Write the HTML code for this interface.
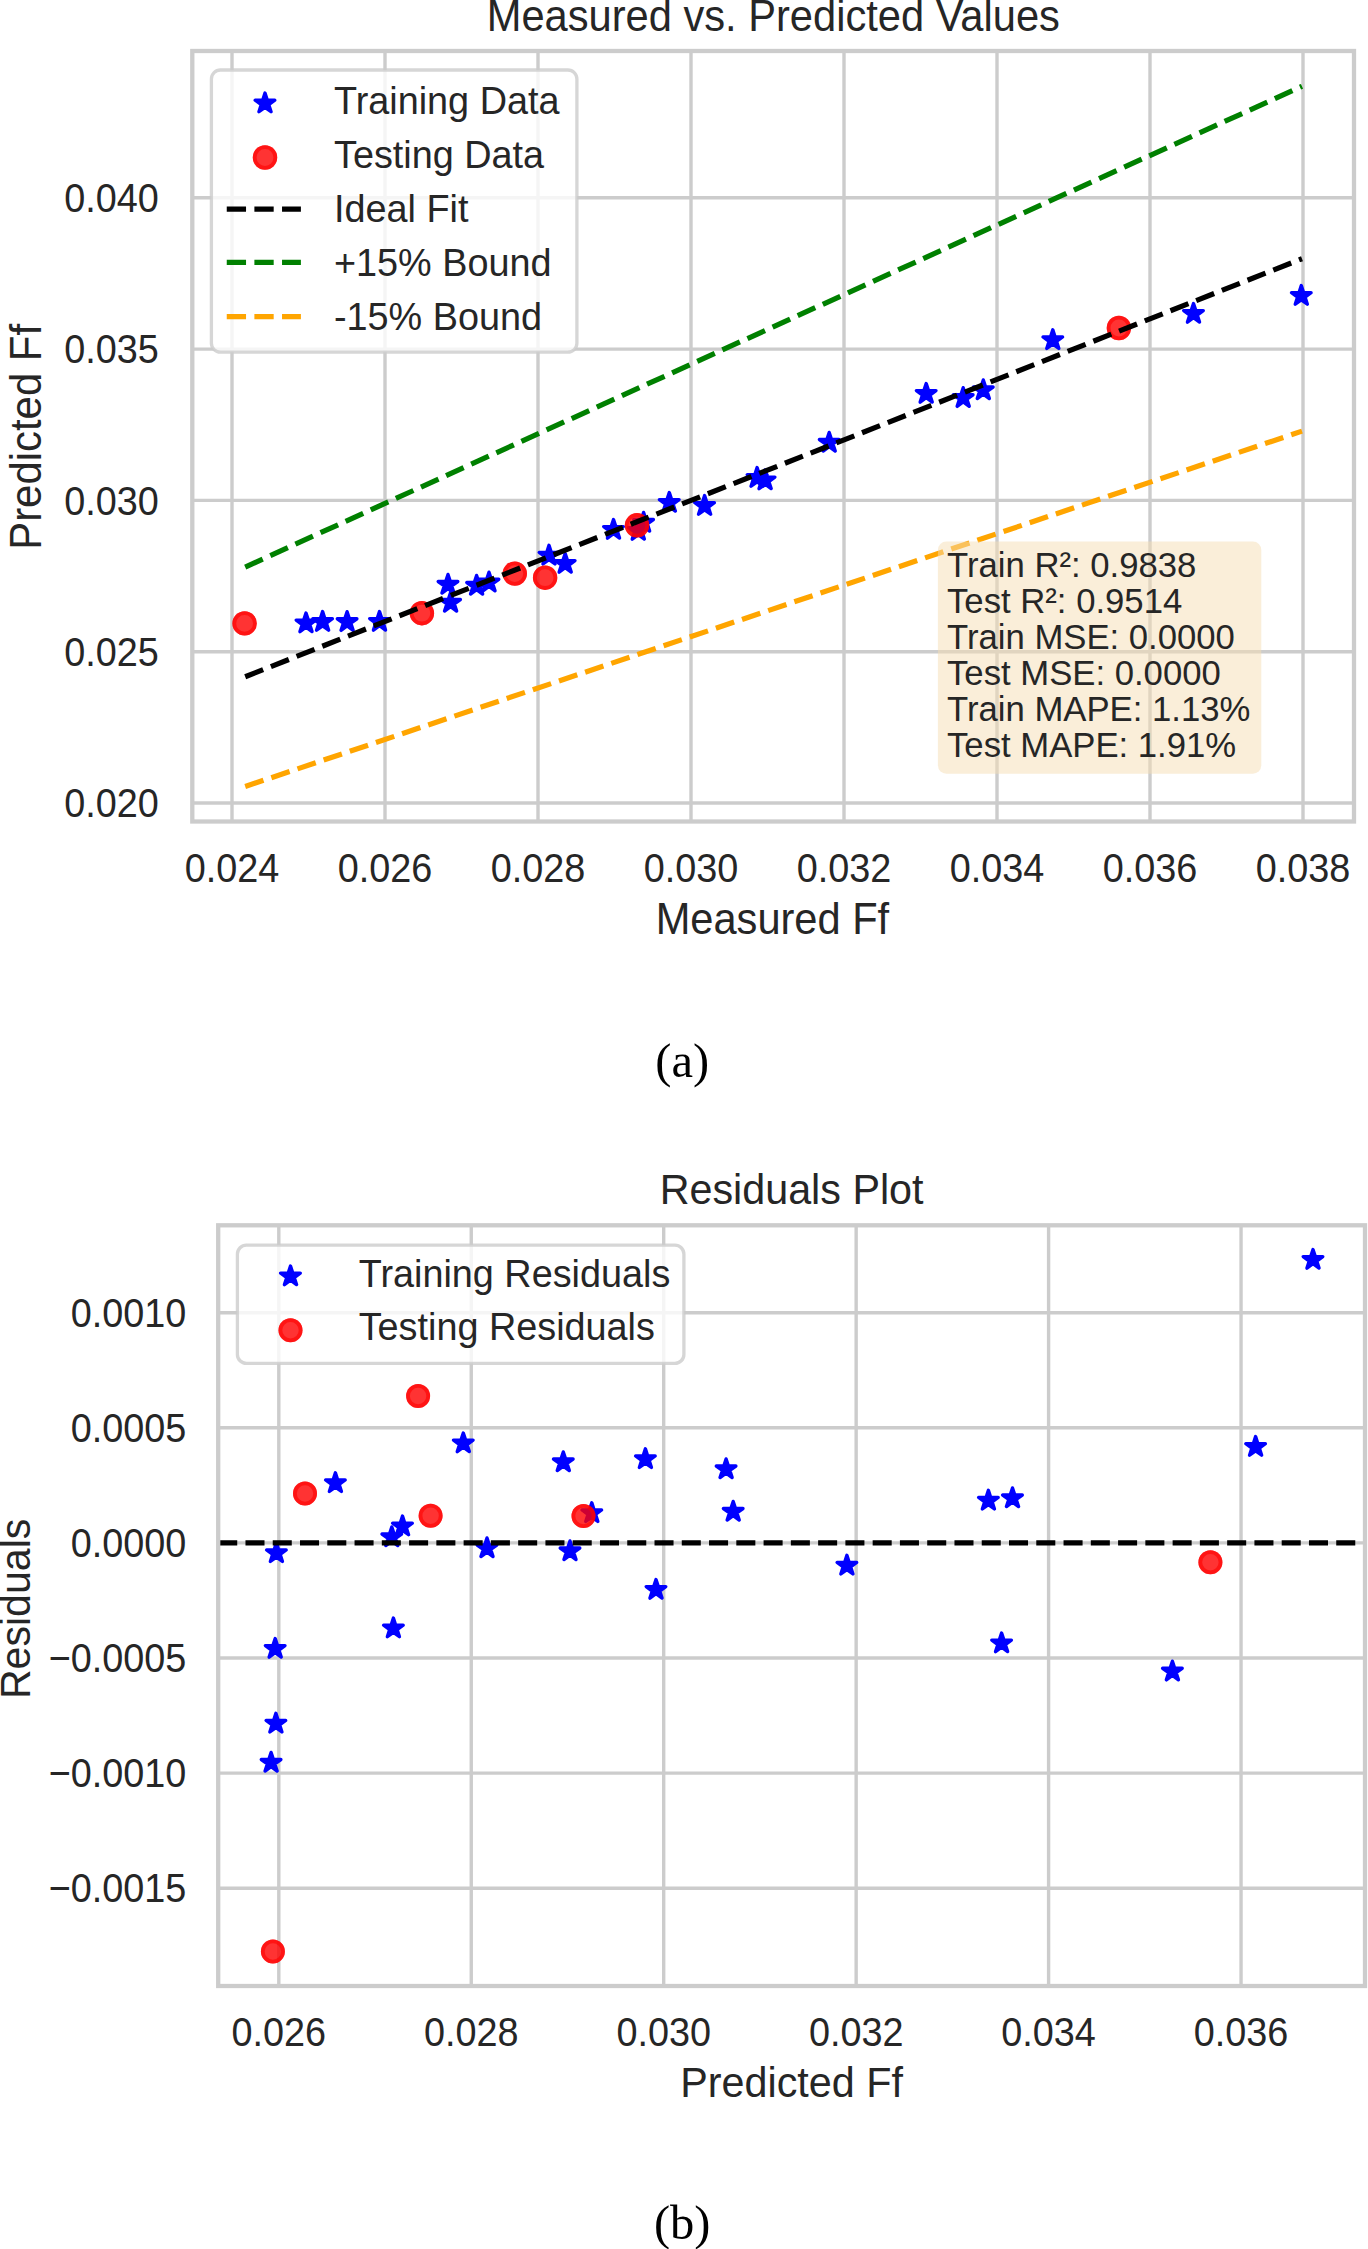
<!DOCTYPE html><html><head><meta charset="utf-8"><style>html,body{margin:0;padding:0;background:#fff;overflow:hidden}svg{display:block}text{font-family:"Liberation Sans",sans-serif;fill:#262626}</style></head><body>
<svg width="1368" height="2249" viewBox="0 0 1368 2249">
<rect width="1368" height="2249" fill="#fff"/>
<defs><clipPath id="ca"><rect x="192.30" y="51.00" width="1161.70" height="770.50"/></clipPath>
<clipPath id="cb"><rect x="218.20" y="1225.30" width="1146.80" height="760.70"/></clipPath></defs>
<g stroke="#cccccc" stroke-width="3.40">
<line x1="232.00" y1="51.00" x2="232.00" y2="821.50"/>
<line x1="385.00" y1="51.00" x2="385.00" y2="821.50"/>
<line x1="538.00" y1="51.00" x2="538.00" y2="821.50"/>
<line x1="691.00" y1="51.00" x2="691.00" y2="821.50"/>
<line x1="844.00" y1="51.00" x2="844.00" y2="821.50"/>
<line x1="997.00" y1="51.00" x2="997.00" y2="821.50"/>
<line x1="1150.00" y1="51.00" x2="1150.00" y2="821.50"/>
<line x1="1303.00" y1="51.00" x2="1303.00" y2="821.50"/>
<line x1="192.30" y1="803.00" x2="1354.00" y2="803.00"/>
<line x1="192.30" y1="651.70" x2="1354.00" y2="651.70"/>
<line x1="192.30" y1="500.40" x2="1354.00" y2="500.40"/>
<line x1="192.30" y1="349.10" x2="1354.00" y2="349.10"/>
<line x1="192.30" y1="197.80" x2="1354.00" y2="197.80"/>
</g>
<g clip-path="url(#ca)">
<g fill="#0000ff" stroke="#0000ff" stroke-width="3.40" stroke-linejoin="round"><polygon points="306.00,613.00 308.31,620.12 315.80,620.12 309.74,624.52 312.05,631.63 306.00,627.23 299.95,631.63 302.26,624.52 296.20,620.12 303.69,620.12"/><polygon points="322.60,611.60 324.91,618.72 332.40,618.72 326.34,623.12 328.65,630.23 322.60,625.83 316.55,630.23 318.86,623.12 312.80,618.72 320.29,618.72"/><polygon points="347.10,611.70 349.41,618.82 356.90,618.82 350.84,623.22 353.15,630.33 347.10,625.93 341.05,630.33 343.36,623.22 337.30,618.82 344.79,618.82"/><polygon points="379.50,611.50 381.81,618.62 389.30,618.62 383.24,623.02 385.55,630.13 379.50,625.73 373.45,630.13 375.76,623.02 369.70,618.62 377.19,618.62"/><polygon points="448.00,574.40 450.31,581.52 457.80,581.52 451.74,585.92 454.05,593.03 448.00,588.63 441.95,593.03 444.26,585.92 438.20,581.52 445.69,581.52"/><polygon points="450.60,592.40 452.91,599.52 460.40,599.52 454.34,603.92 456.65,611.03 450.60,606.63 444.55,611.03 446.86,603.92 440.80,599.52 448.29,599.52"/><polygon points="476.60,575.40 478.91,582.52 486.40,582.52 480.34,586.92 482.65,594.03 476.60,589.63 470.55,594.03 472.86,586.92 466.80,582.52 474.29,582.52"/><polygon points="489.00,572.20 491.31,579.32 498.80,579.32 492.74,583.72 495.05,590.83 489.00,586.43 482.95,590.83 485.26,583.72 479.20,579.32 486.69,579.32"/><polygon points="549.00,545.30 551.31,552.42 558.80,552.42 552.74,556.82 555.05,563.93 549.00,559.53 542.95,563.93 545.26,556.82 539.20,552.42 546.69,552.42"/><polygon points="565.20,553.50 567.51,560.62 575.00,560.62 568.94,565.02 571.25,572.13 565.20,567.73 559.15,572.13 561.46,565.02 555.40,560.62 562.89,560.62"/><polygon points="613.50,519.50 615.81,526.62 623.30,526.62 617.24,531.02 619.55,538.13 613.50,533.73 607.45,538.13 609.76,531.02 603.70,526.62 611.19,526.62"/><polygon points="643.60,512.40 645.91,519.52 653.40,519.52 647.34,523.92 649.65,531.03 643.60,526.63 637.55,531.03 639.86,523.92 633.80,519.52 641.29,519.52"/><polygon points="638.30,520.50 640.61,527.62 648.10,527.62 642.04,532.02 644.35,539.13 638.30,534.73 632.25,539.13 634.56,532.02 628.50,527.62 635.99,527.62"/><polygon points="669.30,492.50 671.61,499.62 679.10,499.62 673.04,504.02 675.35,511.13 669.30,506.73 663.25,511.13 665.56,504.02 659.50,499.62 666.99,499.62"/><polygon points="704.60,495.60 706.91,502.72 714.40,502.72 708.34,507.12 710.65,514.23 704.60,509.83 698.55,514.23 700.86,507.12 694.80,502.72 702.29,502.72"/><polygon points="757.10,467.60 759.41,474.72 766.90,474.72 760.84,479.12 763.15,486.23 757.10,481.83 751.05,486.23 753.36,479.12 747.30,474.72 754.79,474.72"/><polygon points="765.10,470.00 767.41,477.12 774.90,477.12 768.84,481.52 771.15,488.63 765.10,484.23 759.05,488.63 761.36,481.52 755.30,477.12 762.79,477.12"/><polygon points="829.20,432.40 831.51,439.52 839.00,439.52 832.94,443.92 835.25,451.03 829.20,446.63 823.15,451.03 825.46,443.92 819.40,439.52 826.89,439.52"/><polygon points="926.20,383.50 928.51,390.62 936.00,390.62 929.94,395.02 932.25,402.13 926.20,397.73 920.15,402.13 922.46,395.02 916.40,390.62 923.89,390.62"/><polygon points="963.20,387.70 965.51,394.82 973.00,394.82 966.94,399.22 969.25,406.33 963.20,401.93 957.15,406.33 959.46,399.22 953.40,394.82 960.89,394.82"/><polygon points="983.30,379.90 985.61,387.02 993.10,387.02 987.04,391.42 989.35,398.53 983.30,394.13 977.25,398.53 979.56,391.42 973.50,387.02 980.99,387.02"/><polygon points="1052.80,329.80 1055.11,336.92 1062.60,336.92 1056.54,341.32 1058.85,348.43 1052.80,344.03 1046.75,348.43 1049.06,341.32 1043.00,336.92 1050.49,336.92"/><polygon points="1193.50,303.50 1195.81,310.62 1203.30,310.62 1197.24,315.02 1199.55,322.13 1193.50,317.73 1187.45,322.13 1189.76,315.02 1183.70,310.62 1191.19,310.62"/><polygon points="1301.30,285.60 1303.61,292.72 1311.10,292.72 1305.04,297.12 1307.35,304.23 1301.30,299.83 1295.25,304.23 1297.56,297.12 1291.50,292.72 1298.99,292.72"/></g>
<g><circle cx="244.60" cy="623.40" r="12.20" fill="#ff0000" fill-opacity="0.8"/><circle cx="244.60" cy="623.40" r="10.30" fill="none" stroke="#ff0000" stroke-opacity="0.60" stroke-width="3.80"/><circle cx="421.90" cy="613.20" r="12.20" fill="#ff0000" fill-opacity="0.8"/><circle cx="421.90" cy="613.20" r="10.30" fill="none" stroke="#ff0000" stroke-opacity="0.60" stroke-width="3.80"/><circle cx="514.80" cy="573.60" r="12.20" fill="#ff0000" fill-opacity="0.8"/><circle cx="514.80" cy="573.60" r="10.30" fill="none" stroke="#ff0000" stroke-opacity="0.60" stroke-width="3.80"/><circle cx="545.10" cy="577.70" r="12.20" fill="#ff0000" fill-opacity="0.8"/><circle cx="545.10" cy="577.70" r="10.30" fill="none" stroke="#ff0000" stroke-opacity="0.60" stroke-width="3.80"/><circle cx="637.00" cy="525.30" r="12.20" fill="#ff0000" fill-opacity="0.8"/><circle cx="637.00" cy="525.30" r="10.30" fill="none" stroke="#ff0000" stroke-opacity="0.60" stroke-width="3.80"/><circle cx="1118.90" cy="328.00" r="12.20" fill="#ff0000" fill-opacity="0.8"/><circle cx="1118.90" cy="328.00" r="10.30" fill="none" stroke="#ff0000" stroke-opacity="0.60" stroke-width="3.80"/></g>
<line x1="245.20" y1="676.74" x2="1302.00" y2="258.72" stroke="#000000" stroke-width="5.215" stroke-dasharray="19.296 8.344"/>
<line x1="245.20" y1="567.02" x2="1302.00" y2="86.29" stroke="#008000" stroke-width="5.215" stroke-dasharray="19.261 8.329"/>
<line x1="245.20" y1="786.46" x2="1302.00" y2="431.14" stroke="#ffa500" stroke-width="5.215" stroke-dasharray="19.260 8.328"/>
</g>
<rect x="192.30" y="51.00" width="1161.70" height="770.50" fill="none" stroke="#cccccc" stroke-width="4.30"/>
<text transform="translate(158.80,817.10) scale(1,1.070)" font-size="37.80" text-anchor="end">0.020</text>
<text transform="translate(158.80,665.80) scale(1,1.070)" font-size="37.80" text-anchor="end">0.025</text>
<text transform="translate(158.80,514.50) scale(1,1.070)" font-size="37.80" text-anchor="end">0.030</text>
<text transform="translate(158.80,363.20) scale(1,1.070)" font-size="37.80" text-anchor="end">0.035</text>
<text transform="translate(158.80,211.90) scale(1,1.070)" font-size="37.80" text-anchor="end">0.040</text>
<text transform="translate(232.00,882.40) scale(1,1.070)" font-size="37.80" text-anchor="middle">0.024</text>
<text transform="translate(385.00,882.40) scale(1,1.070)" font-size="37.80" text-anchor="middle">0.026</text>
<text transform="translate(538.00,882.40) scale(1,1.070)" font-size="37.80" text-anchor="middle">0.028</text>
<text transform="translate(691.00,882.40) scale(1,1.070)" font-size="37.80" text-anchor="middle">0.030</text>
<text transform="translate(844.00,882.40) scale(1,1.070)" font-size="37.80" text-anchor="middle">0.032</text>
<text transform="translate(997.00,882.40) scale(1,1.070)" font-size="37.80" text-anchor="middle">0.034</text>
<text transform="translate(1150.00,882.40) scale(1,1.070)" font-size="37.80" text-anchor="middle">0.036</text>
<text transform="translate(1303.00,882.40) scale(1,1.070)" font-size="37.80" text-anchor="middle">0.038</text>
<text transform="translate(772.40,934.10) scale(1,1.050)" font-size="41.60" text-anchor="middle">Measured Ff</text>
<text transform="translate(40.60,436.85) rotate(-90) scale(1,1.050)" font-size="41.90" text-anchor="middle">Predicted Ff</text>
<text transform="translate(773.30,30.50) scale(1,1.050)" font-size="41.65" text-anchor="middle">Measured vs. Predicted Values</text>
<rect x="937.9" y="541.5" width="323.4" height="232.3" rx="8.5" fill="#f5deb3" fill-opacity="0.5"/>
<text transform="translate(947.00,576.70)" font-size="34.70">Train R²: 0.9838</text>
<text transform="translate(947.00,612.75)" font-size="34.70">Test R²: 0.9514</text>
<text transform="translate(947.00,648.80)" font-size="34.70">Train MSE: 0.0000</text>
<text transform="translate(947.00,684.85)" font-size="34.70">Test MSE: 0.0000</text>
<text transform="translate(947.00,720.90)" font-size="34.70">Train MAPE: 1.13%</text>
<text transform="translate(947.00,756.95)" font-size="34.70">Test MAPE: 1.91%</text>
<rect x="211.4" y="70.0" width="365.5" height="282.2" rx="9" fill="#ffffff" fill-opacity="0.8" stroke="#cccccc" stroke-opacity="0.8" stroke-width="3.3"/>
<g fill="#0000ff" stroke="#0000ff" stroke-width="3.40" stroke-linejoin="round"><polygon points="265.00,93.10 267.31,100.22 274.80,100.22 268.74,104.62 271.05,111.73 265.00,107.33 258.95,111.73 261.26,104.62 255.20,100.22 262.69,100.22"/></g>
<g><circle cx="265.00" cy="157.50" r="12.20" fill="#ff0000" fill-opacity="0.8"/><circle cx="265.00" cy="157.50" r="10.30" fill="none" stroke="#ff0000" stroke-opacity="0.60" stroke-width="3.80"/></g>
<line x1="226.75" y1="209.20" x2="300.9" y2="209.20" stroke="#000000" stroke-width="5.215" stroke-dasharray="19.296 8.344"/>
<line x1="226.75" y1="262.40" x2="300.9" y2="262.40" stroke="#008000" stroke-width="5.215" stroke-dasharray="19.296 8.344"/>
<line x1="226.75" y1="316.60" x2="300.9" y2="316.60" stroke="#ffa500" stroke-width="5.215" stroke-dasharray="19.296 8.344"/>
<text transform="translate(334.00,113.80) scale(1,1.050)" font-size="37.80">Training Data</text>
<text transform="translate(334.00,167.80) scale(1,1.050)" font-size="37.80">Testing Data</text>
<text transform="translate(334.00,221.80) scale(1,1.050)" font-size="37.80">Ideal Fit</text>
<text transform="translate(334.00,275.80) scale(1,1.050)" font-size="37.80">+15% Bound</text>
<text transform="translate(334.00,329.80) scale(1,1.050)" font-size="37.80">-15% Bound</text>
<text transform="translate(682.20,1077.40)" font-size="48.50" text-anchor="middle" style="font-family:'Liberation Serif',serif;fill:#000">(a)</text>
<g stroke="#cccccc" stroke-width="3.40">
<line x1="278.80" y1="1225.30" x2="278.80" y2="1986.00"/>
<line x1="471.25" y1="1225.30" x2="471.25" y2="1986.00"/>
<line x1="663.70" y1="1225.30" x2="663.70" y2="1986.00"/>
<line x1="856.15" y1="1225.30" x2="856.15" y2="1986.00"/>
<line x1="1048.60" y1="1225.30" x2="1048.60" y2="1986.00"/>
<line x1="1241.05" y1="1225.30" x2="1241.05" y2="1986.00"/>
<line x1="218.20" y1="1888.20" x2="1365.00" y2="1888.20"/>
<line x1="218.20" y1="1773.10" x2="1365.00" y2="1773.10"/>
<line x1="218.20" y1="1658.00" x2="1365.00" y2="1658.00"/>
<line x1="218.20" y1="1542.90" x2="1365.00" y2="1542.90"/>
<line x1="218.20" y1="1427.80" x2="1365.00" y2="1427.80"/>
<line x1="218.20" y1="1312.70" x2="1365.00" y2="1312.70"/>
</g>
<g clip-path="url(#cb)">
<g fill="#0000ff" stroke="#0000ff" stroke-width="3.40" stroke-linejoin="round"><polygon points="276.40,1542.80 278.71,1549.92 286.20,1549.92 280.14,1554.32 282.45,1561.43 276.40,1557.03 270.35,1561.43 272.66,1554.32 266.60,1549.92 274.09,1549.92"/><polygon points="275.20,1638.50 277.51,1645.62 285.00,1645.62 278.94,1650.02 281.25,1657.13 275.20,1652.73 269.15,1657.13 271.46,1650.02 265.40,1645.62 272.89,1645.62"/><polygon points="275.90,1713.30 278.21,1720.42 285.70,1720.42 279.64,1724.82 281.95,1731.93 275.90,1727.53 269.85,1731.93 272.16,1724.82 266.10,1720.42 273.59,1720.42"/><polygon points="271.10,1752.40 273.41,1759.52 280.90,1759.52 274.84,1763.92 277.15,1771.03 271.10,1766.63 265.05,1771.03 267.36,1763.92 261.30,1759.52 268.79,1759.52"/><polygon points="335.40,1472.80 337.71,1479.92 345.20,1479.92 339.14,1484.32 341.45,1491.43 335.40,1487.03 329.35,1491.43 331.66,1484.32 325.60,1479.92 333.09,1479.92"/><polygon points="391.80,1526.90 394.11,1534.02 401.60,1534.02 395.54,1538.42 397.85,1545.53 391.80,1541.13 385.75,1545.53 388.06,1538.42 382.00,1534.02 389.49,1534.02"/><polygon points="402.50,1516.10 404.81,1523.22 412.30,1523.22 406.24,1527.62 408.55,1534.73 402.50,1530.33 396.45,1534.73 398.76,1527.62 392.70,1523.22 400.19,1523.22"/><polygon points="393.40,1618.10 395.71,1625.22 403.20,1625.22 397.14,1629.62 399.45,1636.73 393.40,1632.33 387.35,1636.73 389.66,1629.62 383.60,1625.22 391.09,1625.22"/><polygon points="463.30,1433.00 465.61,1440.12 473.10,1440.12 467.04,1444.52 469.35,1451.63 463.30,1447.23 457.25,1451.63 459.56,1444.52 453.50,1440.12 460.99,1440.12"/><polygon points="487.00,1537.90 489.31,1545.02 496.80,1545.02 490.74,1549.42 493.05,1556.53 487.00,1552.13 480.95,1556.53 483.26,1549.42 477.20,1545.02 484.69,1545.02"/><polygon points="563.30,1451.90 565.61,1459.02 573.10,1459.02 567.04,1463.42 569.35,1470.53 563.30,1466.13 557.25,1470.53 559.56,1463.42 553.50,1459.02 560.99,1459.02"/><polygon points="570.00,1540.90 572.31,1548.02 579.80,1548.02 573.74,1552.42 576.05,1559.53 570.00,1555.13 563.95,1559.53 566.26,1552.42 560.20,1548.02 567.69,1548.02"/><polygon points="591.80,1502.80 594.11,1509.92 601.60,1509.92 595.54,1514.32 597.85,1521.43 591.80,1517.03 585.75,1521.43 588.06,1514.32 582.00,1509.92 589.49,1509.92"/><polygon points="645.40,1448.80 647.71,1455.92 655.20,1455.92 649.14,1460.32 651.45,1467.43 645.40,1463.03 639.35,1467.43 641.66,1460.32 635.60,1455.92 643.09,1455.92"/><polygon points="656.00,1579.50 658.31,1586.62 665.80,1586.62 659.74,1591.02 662.05,1598.13 656.00,1593.73 649.95,1598.13 652.26,1591.02 646.20,1586.62 653.69,1586.62"/><polygon points="726.10,1458.90 728.41,1466.02 735.90,1466.02 729.84,1470.42 732.15,1477.53 726.10,1473.13 720.05,1477.53 722.36,1470.42 716.30,1466.02 723.79,1466.02"/><polygon points="733.20,1501.40 735.51,1508.52 743.00,1508.52 736.94,1512.92 739.25,1520.03 733.20,1515.63 727.15,1520.03 729.46,1512.92 723.40,1508.52 730.89,1508.52"/><polygon points="846.90,1555.30 849.21,1562.42 856.70,1562.42 850.64,1566.82 852.95,1573.93 846.90,1569.53 840.85,1573.93 843.16,1566.82 837.10,1562.42 844.59,1562.42"/><polygon points="988.40,1490.30 990.71,1497.42 998.20,1497.42 992.14,1501.82 994.45,1508.93 988.40,1504.53 982.35,1508.93 984.66,1501.82 978.60,1497.42 986.09,1497.42"/><polygon points="1012.50,1487.90 1014.81,1495.02 1022.30,1495.02 1016.24,1499.42 1018.55,1506.53 1012.50,1502.13 1006.45,1506.53 1008.76,1499.42 1002.70,1495.02 1010.19,1495.02"/><polygon points="1001.60,1633.00 1003.91,1640.12 1011.40,1640.12 1005.34,1644.52 1007.65,1651.63 1001.60,1647.23 995.55,1651.63 997.86,1644.52 991.80,1640.12 999.29,1640.12"/><polygon points="1172.40,1661.20 1174.71,1668.32 1182.20,1668.32 1176.14,1672.72 1178.45,1679.83 1172.40,1675.43 1166.35,1679.83 1168.66,1672.72 1162.60,1668.32 1170.09,1668.32"/><polygon points="1255.60,1436.60 1257.91,1443.72 1265.40,1443.72 1259.34,1448.12 1261.65,1455.23 1255.60,1450.83 1249.55,1455.23 1251.86,1448.12 1245.80,1443.72 1253.29,1443.72"/><polygon points="1313.00,1249.50 1315.31,1256.62 1322.80,1256.62 1316.74,1261.02 1319.05,1268.13 1313.00,1263.73 1306.95,1268.13 1309.26,1261.02 1303.20,1256.62 1310.69,1256.62"/></g>
<g><circle cx="305.00" cy="1493.50" r="12.00" fill="#ff0000" fill-opacity="0.8"/><circle cx="305.00" cy="1493.50" r="10.10" fill="none" stroke="#ff0000" stroke-opacity="0.60" stroke-width="3.80"/><circle cx="418.10" cy="1396.00" r="12.00" fill="#ff0000" fill-opacity="0.8"/><circle cx="418.10" cy="1396.00" r="10.10" fill="none" stroke="#ff0000" stroke-opacity="0.60" stroke-width="3.80"/><circle cx="430.60" cy="1515.80" r="12.00" fill="#ff0000" fill-opacity="0.8"/><circle cx="430.60" cy="1515.80" r="10.10" fill="none" stroke="#ff0000" stroke-opacity="0.60" stroke-width="3.80"/><circle cx="583.50" cy="1516.00" r="12.00" fill="#ff0000" fill-opacity="0.8"/><circle cx="583.50" cy="1516.00" r="10.10" fill="none" stroke="#ff0000" stroke-opacity="0.60" stroke-width="3.80"/><circle cx="1210.40" cy="1562.30" r="12.00" fill="#ff0000" fill-opacity="0.8"/><circle cx="1210.40" cy="1562.30" r="10.10" fill="none" stroke="#ff0000" stroke-opacity="0.60" stroke-width="3.80"/><circle cx="272.90" cy="1951.50" r="12.00" fill="#ff0000" fill-opacity="0.8"/><circle cx="272.90" cy="1951.50" r="10.10" fill="none" stroke="#ff0000" stroke-opacity="0.60" stroke-width="3.80"/></g>
<line x1="218.20" y1="1542.90" x2="1365.00" y2="1542.90" stroke="#000" stroke-width="5.145" stroke-dasharray="19.037 8.232"/>
</g>
<rect x="218.20" y="1225.30" width="1146.80" height="760.70" fill="none" stroke="#cccccc" stroke-width="4.30"/>
<text transform="translate(186.30,1902.10) scale(1,1.070)" font-size="37.80" text-anchor="end">−0.0015</text>
<text transform="translate(186.30,1787.00) scale(1,1.070)" font-size="37.80" text-anchor="end">−0.0010</text>
<text transform="translate(186.30,1671.90) scale(1,1.070)" font-size="37.80" text-anchor="end">−0.0005</text>
<text transform="translate(186.30,1556.80) scale(1,1.070)" font-size="37.80" text-anchor="end">0.0000</text>
<text transform="translate(186.30,1441.70) scale(1,1.070)" font-size="37.80" text-anchor="end">0.0005</text>
<text transform="translate(186.30,1326.60) scale(1,1.070)" font-size="37.80" text-anchor="end">0.0010</text>
<text transform="translate(278.80,2045.70) scale(1,1.070)" font-size="37.80" text-anchor="middle">0.026</text>
<text transform="translate(471.25,2045.70) scale(1,1.070)" font-size="37.80" text-anchor="middle">0.028</text>
<text transform="translate(663.70,2045.70) scale(1,1.070)" font-size="37.80" text-anchor="middle">0.030</text>
<text transform="translate(856.15,2045.70) scale(1,1.070)" font-size="37.80" text-anchor="middle">0.032</text>
<text transform="translate(1048.60,2045.70) scale(1,1.070)" font-size="37.80" text-anchor="middle">0.034</text>
<text transform="translate(1241.05,2045.70) scale(1,1.070)" font-size="37.80" text-anchor="middle">0.036</text>
<text transform="translate(791.60,2096.70) scale(1,1.050)" font-size="41.30" text-anchor="middle">Predicted Ff</text>
<text transform="translate(29.60,1608.90) rotate(-90) scale(1,1.050)" font-size="41.10" text-anchor="middle">Residuals</text>
<text transform="translate(791.60,1204.20) scale(1,1.050)" font-size="41.30" text-anchor="middle">Residuals Plot</text>
<rect x="237.4" y="1245.1" width="446.5" height="118.3" rx="9" fill="#ffffff" fill-opacity="0.8" stroke="#cccccc" stroke-opacity="0.8" stroke-width="3.3"/>
<g fill="#0000ff" stroke="#0000ff" stroke-width="3.40" stroke-linejoin="round"><polygon points="290.50,1266.00 292.81,1273.12 300.30,1273.12 294.24,1277.52 296.55,1284.63 290.50,1280.23 284.45,1284.63 286.76,1277.52 280.70,1273.12 288.19,1273.12"/></g>
<g><circle cx="290.50" cy="1330.20" r="12.00" fill="#ff0000" fill-opacity="0.8"/><circle cx="290.50" cy="1330.20" r="10.10" fill="none" stroke="#ff0000" stroke-opacity="0.60" stroke-width="3.80"/></g>
<text transform="translate(358.70,1286.80) scale(1,1.050)" font-size="37.80">Training Residuals</text>
<text transform="translate(358.70,1339.80) scale(1,1.050)" font-size="37.80">Testing Residuals</text>
<text transform="translate(682.20,2238.80)" font-size="48.50" text-anchor="middle" style="font-family:'Liberation Serif',serif;fill:#000">(b)</text>
</svg></body></html>
